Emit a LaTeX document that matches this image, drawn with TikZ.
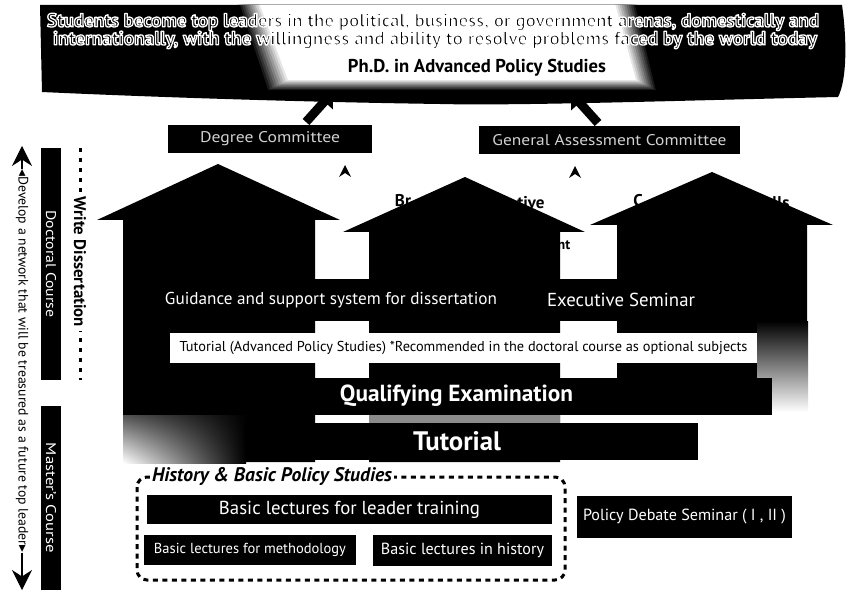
\documentclass[tikz,border=0pt]{standalone}
\usepackage{fontspec}
\setmainfont{PT Sans}
\newfontfamily\symf{DejaVu Sans}
\usetikzlibrary{arrows.meta,shadings}
\newcommand\fitw[2]{\resizebox{#1}{!}{#2}}
\newcommand\fitwh[3]{\resizebox{#1}{#2}{#3}}
\newcommand\outl[1]{\special{pdf:literal direct 1 1 1 RG 1.1 w 1 j 2 Tr}#1\special{pdf:literal direct 0 Tr 0 0 0 RG}}
\begin{document}
\begin{tikzpicture}[x=1pt,y=-1pt,
  wbox/.style={fill=black,text=white,inner sep=0pt},
  frag/.style={font=\bfseries\fontsize{17}{17}\selectfont,inner sep=0pt},
  btxt/.style={font=\bfseries\fontsize{16}{16}\selectfont,inner sep=0pt,text=black},
  house/.style={fill=black},
  hdash/.style={line width=3pt,dash pattern=on 5pt off 4.5pt},
]
\useasboundingbox[fill=white] (0,0) rectangle (857,596);

% ---------- banner ----------
\fill (40,5) -- (842,5) .. controls (847,40) and (847,80) .. (838,97)
  .. controls (700,100) and (520,106) .. (440,104)
  .. controls (300,102) and (150,97) .. (42,92) -- cycle;
\begin{scope}
  \clip (40,5) -- (842,5) .. controls (847,40) and (847,80) .. (838,97)
  .. controls (700,100) and (520,106) .. (440,104)
  .. controls (300,102) and (150,97) .. (42,92) -- cycle;
  \foreach \i in {0,...,10}{
    \pgfmathsetmacro\d{(10-\i)*2.2}
    \pgfmathsetmacro\gl{100-\i*10}
    \fill[black!\gl] ({258-\d},0) -- ({614+\d},0) -- ({636+\d},{80+\d/2}) -- ({288-\d},{80+\d/2}) -- cycle;
  }
\end{scope}
\node[btxt] (t1) at (433,22) {\fitw{772pt}{\outl{Students become top leaders in the political, business, or government arenas, domestically and}}};
\node[btxt] (t2) at (435,40) {\fitw{764pt}{\outl{internationally, with the willingness and ability to resolve problems faced by the world today}}};
\node[btxt] (t3) at (477,68) {\fitw{258pt}{Ph.D. in Advanced Policy Studies}};

% ---------- committees ----------
\node[wbox,minimum width=204pt,minimum height=28pt,text=white!82!black] (deg) at (270,139)
  {\fitwh{140pt}{11pt}{Degree Committee}};
\node[wbox,minimum width=261pt,minimum height=28pt,text=white!82!black] (gac) at (609.5,140)
  {\fitwh{234pt}{11pt}{General Assessment Committee}};
\coordinate (a1s) at (306,122);
\coordinate (a1e) at (333,92);
\coordinate (a2s) at (598,123);
\coordinate (a2e) at (571,93);
\draw[line width=9pt,-{Triangle[length=13pt,width=22pt]}] (a1s) -- (a1e);
\draw[line width=9pt,-{Triangle[length=13pt,width=22pt]}] (a2s) -- (a2e);
\fill (339,177) -- (345,165) -- (351,177) -- (345,173) -- cycle;
\fill (569,178) -- (575,166) -- (581,178) -- (575,174) -- cycle;

% ---------- hidden titles (only fragments show) ----------
\node[frag] (f1) at (403,201) {Br};
\node[frag] (f2) at (531,203) {tive};
\node[frag,font=\bfseries\fontsize{14}{14}\selectfont] (f3) at (564,245) {nt};
\node[frag] (f4) at (638,201) {C};
\node[frag] (f5) at (781,203) {lls};

% ---------- houses ----------
\fill[house] (97,220) -- (218,164) -- (340,220) -- (315,220) -- (315,462) -- (123,462) -- (123,220) -- cycle;
\fill[house] (343,232) -- (465,177) -- (585,232) -- (560,232) -- (560,462) -- (369,462) -- (369,232) -- cycle;
\fill[house] (590,225) -- (712,172) -- (833,225) -- (807,225) -- (807,322) -- (757,322) -- (757,380) -- (617,380) -- (617,225) -- cycle;
\shade[top color=black,bottom color=white] (757,321) rectangle (808,412);
\shade[upper left=black,upper right=black,lower right=black,lower left=white] (123,392) rectangle (246,463);

% bands
\fill (123,279) rectangle (807,321);
\fill (123,378) rectangle (772,415);
\fill (245,423) rectangle (698,460);
\fill[black!45] (369,415) rectangle (560,423);

% tutorial (advanced) white box
\node[fill=white,inner sep=0pt,minimum width=587pt,minimum height=30pt] (tadv) at (463.5,348)
  {\fitw{568pt}{\fontsize{14}{14}\selectfont Tutorial (Advanced Policy Studies) *Recommended in the doctoral course as optional subjects}};

% labels on black
\node[text=white,inner sep=0pt] (guid) at (331,300) {\fitw{332pt}{\fontsize{17}{17}\selectfont Guidance and support system for dissertation}};
\node[text=white,inner sep=0pt] (exsem) at (621,300) {\fitw{148pt}{\fontsize{17}{17}\selectfont Executive Seminar}};
\node[text=white,inner sep=0pt] (qual) at (456.5,396) {\fitw{233pt}{\bfseries\fontsize{22}{22}\selectfont Qualifying Examination}};
\node[text=white,inner sep=0pt] (tut) at (457,441) {\fitw{88pt}{\bfseries\fontsize{22}{22}\selectfont Tutorial}};

% ---------- left column ----------
\node[rotate=-90,inner sep=0pt] (dev) at (22,361)
  {\fitw{383pt}{\fontsize{13.5}{14}\selectfont{\symf ◂}Develop a network that will be treasured as a future top leader{\symf ▸}}};
\coordinate (upt) at (22,146);
\coordinate (dnt) at (22,590);
\draw[line width=1.2pt,-{Stealth[length=20pt,width=20pt]}] (dev.west) -- (upt);
\draw[line width=1.2pt,-{Stealth[length=20pt,width=20pt]}] (dev.east) -- (dnt);
\node[wbox,rotate=-90,minimum width=232pt,minimum height=20pt] (doc) at (51,264)
  {\fitwh{107pt}{10pt}{Doctoral Course}};
\node[wbox,rotate=-90,minimum width=184pt,minimum height=20pt] (mas) at (51,498)
  {\fitwh{110pt}{10pt}{Master’s Course}};
\coordinate (wd1) at (80,148);
\coordinate (wd2) at (80,380);
\draw[line width=3pt,dash pattern=on 4pt off 6pt] (wd1) -- (wd2);
\node[rotate=-90,fill=white,inner sep=4pt] (wdis) at (80,262)
  {\fitw{130pt}{\bfseries\fontsize{15}{15}\selectfont Write Dissertation}};

% ---------- history & basic policy studies ----------
\draw[hdash,rounded corners=10pt] (137,477) rectangle (565,580);
\node[fill=white,inner sep=2pt] (hbl) at (272,477)
  {\fitw{240pt}{\bfseries\itshape\fontsize{15}{15}\selectfont History \& Basic Policy Studies}};
\node[wbox,minimum width=405pt,minimum height=29pt] (lead) at (349.5,509.5)
  {\fitw{261pt}{\fontsize{17}{17}\selectfont Basic lectures for leader training}};
\node[wbox,minimum width=212pt,minimum height=30pt] (meth) at (250,550)
  {\fitw{192pt}{\fontsize{14.5}{15}\selectfont Basic lectures for methodology}};
\node[wbox,minimum width=179pt,minimum height=31pt] (hist) at (462.5,550.5)
  {\fitw{163pt}{\fontsize{15}{15}\selectfont Basic lectures in history}};
\node[wbox,minimum width=215pt,minimum height=42pt] (pds) at (684.5,517)
  {\fitw{203pt}{\fontsize{14.5}{15}\selectfont Policy Debate Seminar ( I , II )}};
\end{tikzpicture}
\end{document}
